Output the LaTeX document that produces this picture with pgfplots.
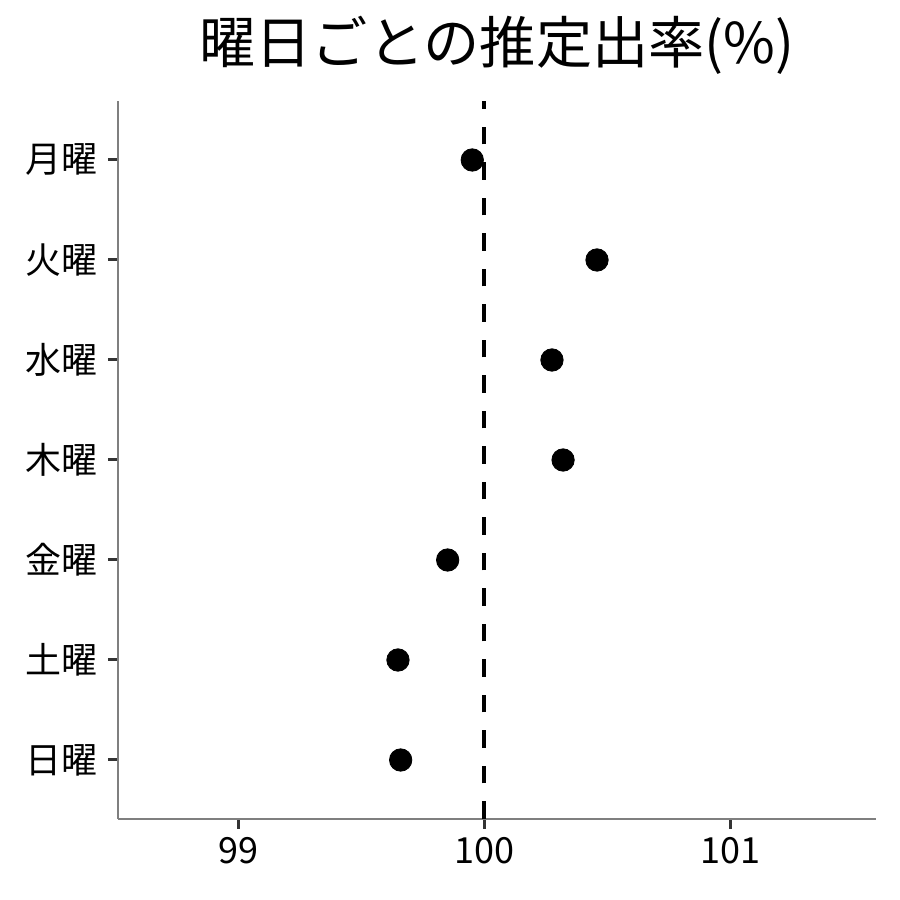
\documentclass[border=0pt]{standalone}
\usepackage{pgfplots}
\pgfplotsset{compat=1.18}
\usepackage{fontspec}
\setmainfont{Noto Sans CJK JP}
\definecolor{axgray}{HTML}{7F7F7F}
\definecolor{tickgray}{HTML}{333333}
\begin{document}
\begin{tikzpicture}
\path[use as bounding box] (0,0) rectangle (450pt,450pt);
\begin{axis}[
  at={(59pt,40.5pt)}, anchor=south west,
  scale only axis, width=379pt, height=359pt,
  xmin=98.512, xmax=101.593, ymin=-0.59, ymax=6.59,
  axis lines*=left,
  axis line style={axgray, line width=0.6pt},
  xtick={99,100,101},
  ytick={0,1,2,3,4,5,6},
  yticklabels={日曜,土曜,金曜,木曜,水曜,火曜,月曜},
  tick align=outside,
  major tick length=5pt,
  every tick/.style={tickgray, line width=1.5pt},
  tick label style={font=\fontsize{18}{20}\selectfont, black},
  yticklabel style={xshift=-1.5pt},
  xticklabel style={yshift=-0.5pt},
  /pgf/number format/assume math mode=true,
  clip=false,
]
\addplot[black, line width=1.75pt, dash pattern=on 8.75pt off 9pt] coordinates {(100,-0.59) (100,6.59)};
\addplot[only marks, mark=*, mark size=5.6pt, black] coordinates {
  (99.952,6) (100.459,5) (100.276,4) (100.321,3) (99.852,2) (99.650,1) (99.661,0)
};
\end{axis}
\node[font=\fontsize{28.1}{30}\selectfont] at (248.5pt,427.5pt) {曜日ごとの推定出率(\%)};
\end{tikzpicture}
\end{document}
